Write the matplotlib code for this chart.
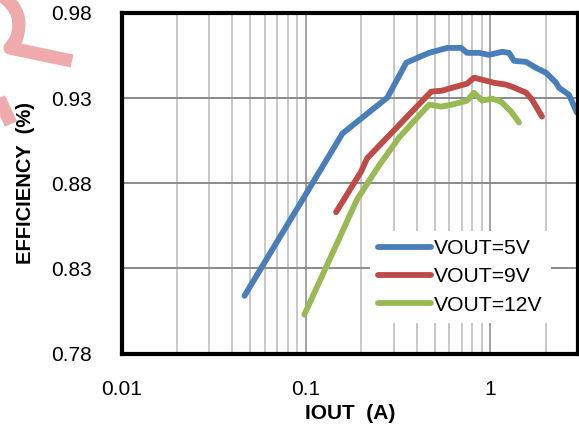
import matplotlib
matplotlib.use('Agg')
import matplotlib.pyplot as plt
from matplotlib.lines import Line2D
from matplotlib.path import Path
from matplotlib.patches import PathPatch

plt.rcParams['font.family'] = ['Liberation Sans', 'DejaVu Sans']

# efficiency vs output current, three output voltages
iout_5v = [0.0465, 0.0718, 0.100, 0.158, 0.277, 0.351, 0.467, 0.585, 0.697, 0.750,
           0.871, 0.988, 1.161, 1.267, 1.349, 1.567, 1.776, 2.012, 2.279, 2.366,
           2.68, 2.96]
eff_5v = [0.8139, 0.8478, 0.8735, 0.9092, 0.9303, 0.9508, 0.9566, 0.9595, 0.9595, 0.9566,
          0.9566, 0.9554, 0.9572, 0.9566, 0.9519, 0.9513, 0.9478, 0.9449, 0.9391, 0.9361,
          0.9320, 0.9215]

iout_9v = [0.146, 0.200, 0.215, 0.479, 0.550, 0.622, 0.750, 0.818, 0.906, 1.051,
           1.221, 1.316, 1.567, 1.689, 1.913]
eff_9v = [0.863, 0.887, 0.8946, 0.9338, 0.9344, 0.9361, 0.9385, 0.942, 0.9408, 0.939,
          0.9379, 0.9367, 0.9332, 0.9291, 0.9192]

iout_12v = [0.0982, 0.190, 0.250, 0.321, 0.467, 0.542, 0.622, 0.750, 0.818, 0.906,
            1.026, 1.147, 1.30, 1.436]
eff_12v = [0.8028, 0.8706, 0.8905, 0.9069, 0.9262, 0.925, 0.9262, 0.9285, 0.9332, 0.9285,
           0.9297, 0.9279, 0.9221, 0.9157]

labels = ['VOUT=5V', 'VOUT=9V', 'VOUT=12V']
colors = ['#4a7ebb', '#be4b48', '#98b954']

x_ticks = [0.01, 0.1, 1]
x_tick_labels = ['0.01', '0.1', '1']
y_ticks = [0.78, 0.83, 0.88, 0.93, 0.98]
y_tick_labels = ['0.78', '0.83', '0.88', '0.93', '0.98']

fig = plt.figure(figsize=(5.79, 4.26), dpi=100)
W, H = 579.0, 426.0
ax = fig.add_axes([121.5 / W, 1 - 353.5 / H, 456.5 / W, 340.5 / H])

ax.set_xscale('log')
ax.set_xlim(0.01, 3)
ax.set_ylim(0.78, 0.98)

# grid: light minor verticals, darker majors
minor = [m * d for d in (0.01, 0.1, 1) for m in range(2, 10) if m * d < 3]
ax.set_xticks(minor, minor=True)
ax.set_xticks(x_ticks)
ax.set_xticklabels(x_tick_labels)
ax.set_xticklabels([], minor=True)
ax.set_yticks(y_ticks)
ax.set_yticklabels(y_tick_labels)
ax.grid(True, which='minor', axis='x', color='#bfbfbf', lw=1.2)
ax.grid(True, which='major', axis='x', color='#9a9a9a', lw=1.3)
ax.grid(True, which='major', axis='y', color='#8a8a8a', lw=1.4)
ax.set_axisbelow(True)

ax.tick_params(which='both', length=0)
ax.tick_params(axis='y', pad=21, labelsize=15)
ax.tick_params(axis='x', pad=19, labelsize=15)

for s in ax.spines.values():
    s.set_linewidth(3)
    s.set_color('black')

for x, y, c, lab in zip([iout_5v, iout_9v, iout_12v], [eff_5v, eff_9v, eff_12v], colors, labels):
    ax.plot(x, y, color=c, lw=4.2, label=lab, solid_capstyle='round', solid_joinstyle='round')

ax.set_xlabel('IOUT  (A)', fontsize=15, fontweight='bold', labelpad=4)
ax.set_ylabel('EFFICIENCY  (%)', fontsize=14.5, fontweight='bold', labelpad=12)

leg = ax.legend(loc='lower right', bbox_to_anchor=((551 - 121.5) / 456.5, (353.5 - 323) / 340.5),
                fontsize=15.2, frameon=True, fancybox=False, framealpha=1, edgecolor='none',
                handlelength=2.5, handletextpad=0.15, labelspacing=0.43,
                borderpad=0.4, borderaxespad=0)
leg.get_frame().set_facecolor('white')

# pink ribbon mark in the top-left corner
def fpt(px, py):
    return (px / W, 1 - py / H)

ribbon = Path([fpt(2, -4), fpt(26, 12), fpt(16, 40), fpt(10, 48), fpt(72, 61)],
              [Path.MOVETO, Path.CURVE3, Path.CURVE3, Path.LINETO, Path.LINETO])
fig.add_artist(PathPatch(ribbon, transform=fig.transFigure, fill=False,
                         edgecolor='#efabab', lw=9.5, capstyle='butt', joinstyle='round'))
fig.add_artist(Line2D([fpt(-2, 96)[0], fpt(11, 124)[0]], [fpt(-2, 96)[1], fpt(11, 124)[1]],
                      transform=fig.transFigure, color='#efabab', lw=9.5,
                      solid_capstyle='butt'))

fig.savefig('out.png', dpi=100)
